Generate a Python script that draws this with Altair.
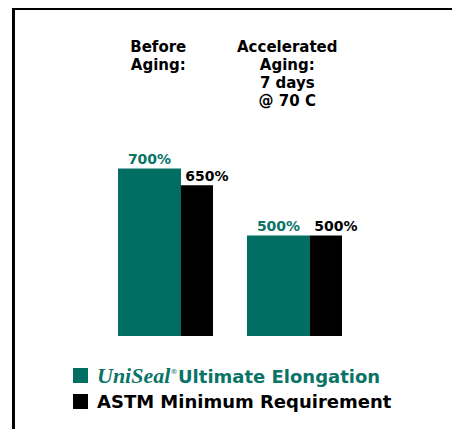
import altair as alt
import pandas as pd

# ---- data ----
groups = ["Before Aging", "Accelerated Aging"]
series = ["UniSeal", "ASTM"]
uniseal_vals = [700, 500]
astm_vals = [650, 500]
header_texts = ["Before\nAging:", "Accelerated\nAging:\n7 days\n@ 70 C"]
legend_names = ["UniSeal® Ultimate Elongation", "ASTM Minimum Requirement"]

TEAL = "#006e63"
TEAL_TXT = "#0a7466"
BLACK = "#000000"

rows = []
for g, u, a in zip(groups, uniseal_vals, astm_vals):
    rows.append({"group": g, "series": "UniSeal", "value": u, "label": f"{u}%"})
    rows.append({"group": g, "series": "ASTM", "value": a, "label": f"{a}%"})
df = pd.DataFrame(rows)
hdr = pd.DataFrame({"group": groups, "text": header_texts})

W, H = 444, 421
Y0 = 200

xscale = alt.Scale(domain=groups, range=[100.75, 358.75], paddingInner=0, paddingOuter=0)
xoff = alt.Scale(domain=series, paddingInner=0, paddingOuter=0.358)
yscale = alt.Scale(domain=[Y0, 1179], range=[328, 0])

base = alt.Chart(df).encode(
    x=alt.X("group:N", scale=xscale, axis=None),
    xOffset=alt.XOffset("series:N", scale=xoff),
    y=alt.Y("value:Q", scale=yscale, axis=None),
)

bars = base.mark_bar().encode(
    y2=alt.datum(Y0),
    color=alt.Color("series:N", scale=alt.Scale(domain=series, range=[TEAL, BLACK]), legend=None),
    size=alt.Size("series:N", scale=alt.Scale(domain=series, range=[63, 32]), legend=None),
)

lab_u = base.transform_filter(alt.datum.series == "UniSeal").mark_text(
    font="DejaVu Sans", fontWeight="bold", fontSize=14, baseline="alphabetic",
    align="center", dy=-4, color=TEAL_TXT,
).encode(text="label:N")

lab_a = base.transform_filter(alt.datum.series == "ASTM").mark_text(
    font="DejaVu Sans", fontWeight="bold", fontSize=14, baseline="alphabetic",
    align="center", dy=-4, dx=10, color=BLACK,
).encode(text="label:N")

headers = alt.Chart(hdr).mark_text(
    font="DejaVu Sans", fontWeight="bold", fontSize=15, baseline="alphabetic",
    align="center", lineBreak="\n", lineHeight=18, dx=-15, color="black",
).encode(
    x=alt.X("group:N", scale=xscale, axis=None),
    y=alt.value(44),
    text="text:N",
)

# legend (manual)
sq1 = alt.Chart(pd.DataFrame({"n": [legend_names[0]]})).mark_rect(color=TEAL).encode(
    x=alt.value(65), x2=alt.value(80), y=alt.value(360), y2=alt.value(375))
sq2 = alt.Chart(pd.DataFrame({"n": [legend_names[1]]})).mark_rect(color=BLACK).encode(
    x=alt.value(65), x2=alt.value(80), y=alt.value(386), y2=alt.value(401))

uni = alt.Chart(pd.DataFrame({"t": ["UniSeal"]})).mark_text(
    font="Liberation Serif", fontStyle="italic", fontWeight="bold", fontSize=22,
    align="left", baseline="alphabetic", color=TEAL_TXT,
).encode(x=alt.value(89), y=alt.value(375), text="t:N")
reg = alt.Chart(pd.DataFrame({"t": ["®"]})).mark_text(
    font="DejaVu Sans", fontSize=7, align="left", baseline="alphabetic", color=TEAL_TXT,
).encode(x=alt.value(162.5), y=alt.value(366), text="t:N")
ult = alt.Chart(pd.DataFrame({"t": ["Ultimate Elongation"]})).mark_text(
    font="DejaVu Sans", fontWeight="bold", fontSize=18,
    align="left", baseline="alphabetic", color=TEAL_TXT,
).encode(x=alt.value(170), y=alt.value(375), text="t:N")
astm = alt.Chart(pd.DataFrame({"t": [legend_names[1]]})).mark_text(
    font="DejaVu Sans", fontWeight="bold", fontSize=18,
    align="left", baseline="alphabetic", color=BLACK,
).encode(x=alt.value(89), y=alt.value(400), text="t:N")

# frame lines
left_line = alt.Chart(pd.DataFrame({"a": [0]})).mark_rule(color="black", strokeWidth=3).encode(
    x=alt.value(5.5), y=alt.value(0), y2=alt.value(H))
top_line = alt.Chart(pd.DataFrame({"a": [0]})).mark_rule(color="black", strokeWidth=3).encode(
    x=alt.value(4), x2=alt.value(W), y=alt.value(0.5))

chart = alt.layer(
    bars, lab_u, lab_a, headers, sq1, sq2, uni, reg, ult, astm, left_line, top_line
).properties(
    width=W, height=H,
    autosize=alt.AutoSizeParams(type="none"),
    padding=0,
    background="white",
).configure_view(strokeWidth=0)

chart.save("out.html", embed_options={"renderer": "svg", "actions": False})
